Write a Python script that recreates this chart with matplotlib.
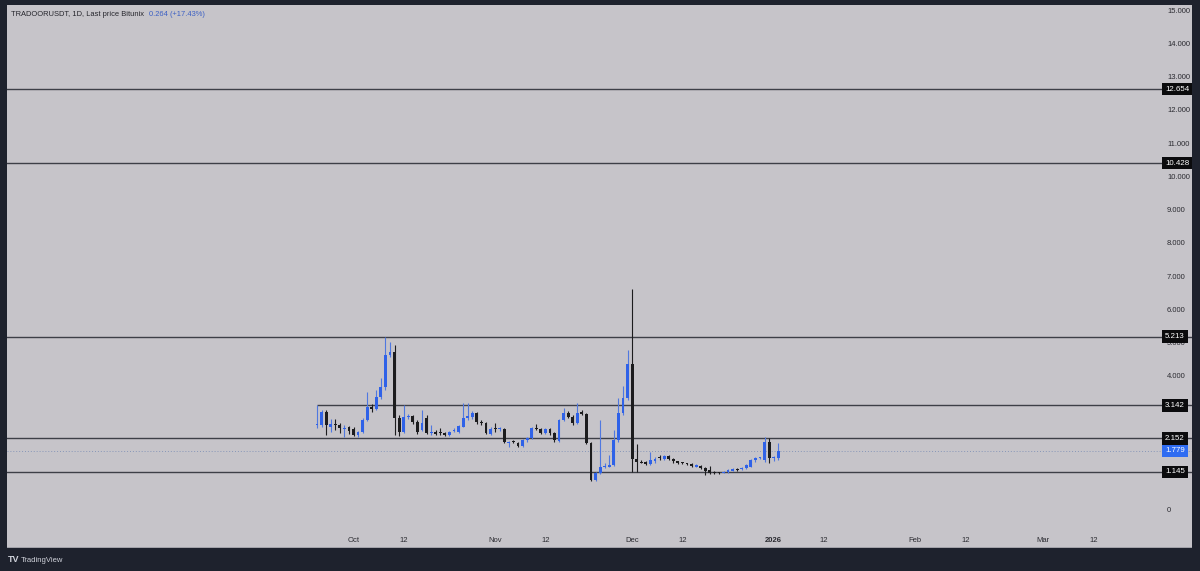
import matplotlib
matplotlib.use('Agg')
import matplotlib.pyplot as plt
import matplotlib.dates as mdates
import matplotlib.transforms as mtransforms
import pandas as pd

plt.rcParams['font.family'] = ['Liberation Sans', 'DejaVu Sans']

# ---------------- data ----------------
start_date = '2025-09-23'
opens = [2.55, 2.55, 2.95, 2.50, 2.58, 2.56, 2.42, 2.48, 2.43, 2.25,
         2.34, 2.71, 3.10, 3.05, 3.40, 3.70, 4.66, 4.75, 2.77, 2.34,
         2.80, 2.83, 2.65, 2.40, 2.77, 2.31, 2.34, 2.32, 2.31, 2.25,
         2.36, 2.34, 2.50, 2.78, 2.80, 2.92, 2.65, 2.61, 2.28, 2.45,
         2.42, 2.43, 2.02, 2.05, 2.02, 1.92, 2.10, 2.16, 2.46, 2.43,
         2.31, 2.43, 2.31, 2.07, 2.71, 2.92, 2.80, 2.61, 2.95, 2.89,
         2.01, 0.90, 1.11, 1.29, 1.30, 1.35, 2.10, 2.92, 3.37, 4.39,
         1.52, 1.45, 1.44, 1.38, 1.46, 1.57, 1.53, 1.62, 1.53, 1.46,
         1.42, 1.39, 1.38, 1.30, 1.33, 1.26, 1.20, 1.14, 1.13, 1.12,
         1.14, 1.18, 1.22, 1.22, 1.25, 1.30, 1.50, 1.56, 1.50, 2.04,
         1.56, 1.56]
highs = [3.15, 3.02, 3.00, 2.75, 2.75, 2.62, 2.55, 2.52, 2.50, 2.38,
         2.78, 3.55, 3.20, 3.61, 3.97, 5.20, 5.05, 4.96, 2.85, 3.16,
         2.88, 2.86, 2.70, 3.00, 2.85, 2.55, 2.40, 2.45, 2.34, 2.37,
         2.45, 2.55, 3.22, 3.22, 2.98, 2.96, 2.70, 2.65, 2.48, 2.62,
         2.48, 2.46, 2.07, 2.10, 2.05, 2.12, 2.18, 2.50, 2.58, 2.46,
         2.45, 2.45, 2.34, 2.74, 3.07, 2.98, 2.85, 3.22, 3.00, 2.92,
         2.05, 1.15, 2.71, 1.40, 1.65, 2.40, 3.37, 3.73, 4.81, 6.65,
         1.98, 1.50, 1.48, 1.75, 1.60, 1.65, 1.64, 1.64, 1.55, 1.48,
         1.44, 1.42, 1.40, 1.37, 1.35, 1.28, 1.32, 1.16, 1.15, 1.16,
         1.22, 1.25, 1.25, 1.28, 1.37, 1.52, 1.60, 1.60, 2.19, 2.16,
         1.62, 2.01]
lows = [2.45, 2.50, 2.25, 2.35, 2.40, 2.30, 2.19, 2.28, 2.22, 2.20,
        2.30, 2.68, 2.95, 3.00, 3.35, 3.62, 4.60, 2.25, 2.22, 2.30,
        2.75, 2.60, 2.28, 2.38, 2.28, 2.26, 2.25, 2.26, 2.22, 2.22,
        2.33, 2.32, 2.48, 2.72, 2.75, 2.60, 2.55, 2.28, 2.25, 2.35,
        2.38, 2.00, 1.90, 2.00, 1.90, 1.90, 2.05, 2.12, 2.40, 2.28,
        2.28, 2.25, 2.05, 2.05, 2.68, 2.77, 2.55, 2.58, 2.85, 1.98,
        0.87, 0.88, 1.08, 1.25, 1.28, 1.32, 2.05, 2.85, 3.30, 1.14,
        1.14, 1.40, 1.35, 1.36, 1.42, 1.50, 1.50, 1.50, 1.42, 1.38,
        1.37, 1.35, 1.30, 1.28, 1.22, 1.05, 1.08, 1.08, 1.09, 1.10,
        1.12, 1.16, 1.18, 1.20, 1.22, 1.28, 1.45, 1.53, 1.45, 1.40,
        1.48, 1.50]
closes = [2.60, 2.95, 2.55, 2.60, 2.56, 2.47, 2.45, 2.38, 2.25, 2.34,
          2.71, 3.10, 3.05, 3.40, 3.70, 4.66, 4.75, 2.77, 2.34, 2.80,
          2.83, 2.65, 2.34, 2.61, 2.31, 2.33, 2.28, 2.30, 2.25, 2.34,
          2.40, 2.52, 2.77, 2.80, 2.92, 2.65, 2.61, 2.31, 2.43, 2.43,
          2.44, 2.04, 2.04, 2.03, 1.92, 2.10, 2.16, 2.46, 2.44, 2.31,
          2.43, 2.31, 2.10, 2.71, 2.92, 2.80, 2.61, 2.92, 2.90, 2.01,
          0.90, 1.11, 1.29, 1.32, 1.35, 2.10, 2.92, 3.37, 4.39, 1.52,
          1.45, 1.42, 1.38, 1.50, 1.53, 1.55, 1.62, 1.54, 1.46, 1.41,
          1.40, 1.38, 1.33, 1.35, 1.25, 1.18, 1.12, 1.11, 1.12, 1.14,
          1.20, 1.22, 1.21, 1.25, 1.35, 1.50, 1.56, 1.57, 2.04, 1.56,
          1.58, 1.779]

level_values = [12.654, 10.428, 5.213, 3.142, 2.152, 1.145]
level_labels = ['12.654', '10.428', '5.213', '3.142', '2.152', '1.145']
range_line_start = '2025-09-23'   # the 3.142 line starts at the first candle
last_price = 1.779
last_price_label = '1.779'

price_ticks = [0, 1, 2, 3, 4, 5, 6, 7, 8, 9, 10, 11, 12, 13, 14, 15]
price_tick_labels = ['0', '1.000', '2.000', '3.000', '4.000', '5.000', '6.000',
                     '7.000', '8.000', '9.000', '10.000', '11.000', '12.000',
                     '13.000', '14.000', '15.000']

date_tick_dates = ['2025-10-01', '2025-10-12', '2025-11-01', '2025-11-12',
                   '2025-12-01', '2025-12-12', '2026-01-01', '2026-01-12',
                   '2026-02-01', '2026-02-12', '2026-03-01', '2026-03-12']
date_tick_labels = ['Oct', '12', 'Nov', '12', 'Dec', '12', '2026', '12',
                    'Feb', '12', 'Mar', '12']

title_text = 'TRADOORUSDT, 1D, Last price Bitunix'
title_price = '0.264 (+17.43%)'

# ---------------- style ----------------
W, H = 1200, 571
BG = '#1e222d'
PANEL = '#c6c4c9'
UP = '#2f62e8'
UP_WICK = '#4f78e0'
DOWN = '#1c1c1e'
LINE = '#3d3f47'

fig = plt.figure(figsize=(W / 100, H / 100), dpi=100, facecolor=BG)
px_l, px_r, px_t, px_b = 7, 1192, 5, 548
ax = fig.add_axes([px_l / W, 1 - px_b / H, (px_r - px_l) / W, (px_b - px_t) / H])
ax.set_facecolor(PANEL)
for s in ax.spines.values():
    s.set_visible(False)
ax.set_xticks([])
ax.set_yticks([])

dates = pd.date_range(start_date, periods=len(opens), freq='D')
xd = mdates.date2num(dates)

# x scale: Oct 1 at pixel 353.5, 4.568 px per day
oct1 = mdates.date2num(pd.Timestamp('2025-10-01'))
ppd = 4.568
ax.set_xlim(oct1 + (px_l - 353.5) / ppd, oct1 + (px_r - 353.5) / ppd)
# y scale: 15 at pixel 11, 0 at pixel 510
ppu = (510 - 11) / 15
ax.set_ylim(0 - (px_b - 510) / ppu, 15 + (11 - px_t) / ppu)

# levels
for v in level_values:
    if abs(v - 3.142) < 1e-6:
        ax.hlines(v, mdates.date2num(pd.Timestamp(range_line_start)),
                  ax.get_xlim()[1], color=LINE, lw=1.0, zorder=2)
    else:
        ax.axhline(v, color=LINE, lw=1.0, zorder=2)
ax.axhline(last_price, color='#8796b8', lw=0.7, ls=(0, (1, 2)), zorder=2)

# candles
body_w = 0.62
for x, o, h, l, c in zip(xd, opens, highs, lows, closes):
    up = c >= o
    ax.vlines(x, l, h, colors=UP_WICK if up else DOWN, lw=0.8, zorder=3)
    bot = min(o, c)
    hgt = max(abs(c - o), 0.035)
    ax.bar(x, hgt, bottom=bot, width=body_w, color=UP if up else DOWN,
           edgecolor='none', zorder=4)

# price axis labels
tr = mtransforms.blended_transform_factory(ax.transAxes, ax.transData)
lab_x = (1167 - px_l) / (px_r - px_l)
for v, t in zip(price_ticks, price_tick_labels):
    ax.text(lab_x, v, t, transform=tr, ha='left', va='center', fontsize=5.5,
            color='#2a2a30', zorder=5)
box_x = (1165 - px_l) / (px_r - px_l)
for v, t in zip(level_values, level_labels):
    ax.text(box_x, v, t, transform=tr, ha='left', va='center', fontsize=5.7,
            color='white', zorder=6,
            bbox=dict(boxstyle='square,pad=0.35', fc='#0b0b0d', ec='none'))
ax.text(box_x, last_price, last_price_label, transform=tr, ha='left',
        va='center', fontsize=5.7, color='white', zorder=6,
        bbox=dict(boxstyle='square,pad=0.35', fc='#2f6cf2', ec='none'))

# date labels
trx = mtransforms.blended_transform_factory(ax.transData, ax.transAxes)
date_y = (px_b - 541) / (px_b - px_t)
for d, t in zip(date_tick_dates, date_tick_labels):
    ax.text(mdates.date2num(pd.Timestamp(d)), date_y, t, transform=trx,
            ha='center', va='center', fontsize=5.5,
            fontweight='bold' if t == '2026' else 'normal', color='#2a2a30')

# bottom separator line
ax.axhline(ax.get_ylim()[0], color='#9a9aa2', lw=1.2, zorder=1)

# title: symbol text, then the price right after it
t1 = fig.text(11 / W, 1 - 15 / H, title_text, ha='left', va='center',
              fontsize=5.4, color='#25252c')
fig.add_artist(matplotlib.text.Annotation(
    title_price, xy=(1, 0.5), xycoords=t1, xytext=(3.5, 0),
    textcoords='offset points', ha='left', va='center', fontsize=5.4,
    color='#3b5fc4'))

# TradingView logo
fig.text(8 / W, 1 - 560 / H, 'TV', ha='left', va='center', fontsize=6.5,
         fontweight='bold', color='#d1d4dc')
fig.text(21 / W, 1 - 560 / H, 'TradingView', ha='left', va='center',
         fontsize=5.5, color='#d1d4dc')

fig.savefig('out.png', dpi=100, facecolor=BG)
